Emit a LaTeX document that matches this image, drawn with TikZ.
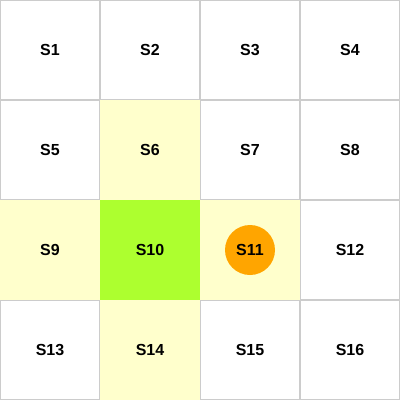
\documentclass[tikz,border=0pt]{standalone}
\usepackage{fontspec}
\setmainfont{Liberation Sans}
\usetikzlibrary{positioning}

\definecolor{gridgray}{HTML}{CCCCCC}
\definecolor{nearyellow}{HTML}{FFFFCC}
\definecolor{goalgreen}{HTML}{ADFF2F}
\definecolor{agentorange}{HTML}{FFA500}

\tikzset{
	cell/.style={draw=gridgray, line width=1pt, fill=white, minimum size=99pt, inner sep=0pt, font=\fontsize{16pt}{18pt}\selectfont\bfseries},
	nearcell/.style={cell, draw=nearyellow, fill=nearyellow},
	goalcell/.style={cell, draw=goalgreen, fill=goalgreen},
	agent/.style={circle, fill=agentorange, minimum size=50pt, inner sep=0pt, font=\fontsize{16pt}{18pt}\selectfont\bfseries}
}

\begin{document}
\begin{tikzpicture}[x=1pt,y=-1pt]
	\useasboundingbox (0,0) rectangle (400,400);
	% first row
	\node[cell] (s1) at (50,50) {S1};
	\node[cell] (s2) at (150,50) {S2};
	\node[cell] (s3) at (250,50) {S3};
	\node[cell] (s4) at (350,50) {S4};
	% second row
	\node[cell] (s5) at (50,150) {S5};
	\node[nearcell] (s6) at (150,150) {S6};
	\node[cell] (s7) at (250,150) {S7};
	\node[cell] (s8) at (350,150) {S8};
	% third row
	\node[nearcell] (s9) at (50,250) {S9};
	\node[goalcell] (s10) at (150,250) {S10};
	\node[nearcell] (s11) at (250,250) {};
	\node[cell] (s12) at (350,250) {S12};
	% fourth row
	\node[cell] (s13) at (50,350) {S13};
	\node[nearcell] (s14) at (150,350) {S14};
	\node[cell] (s15) at (250,350) {S15};
	\node[cell] (s16) at (350,350) {S16};
	% agent
	\node[agent] (robot) at (s11.center) {S11};
\end{tikzpicture}
\end{document}
